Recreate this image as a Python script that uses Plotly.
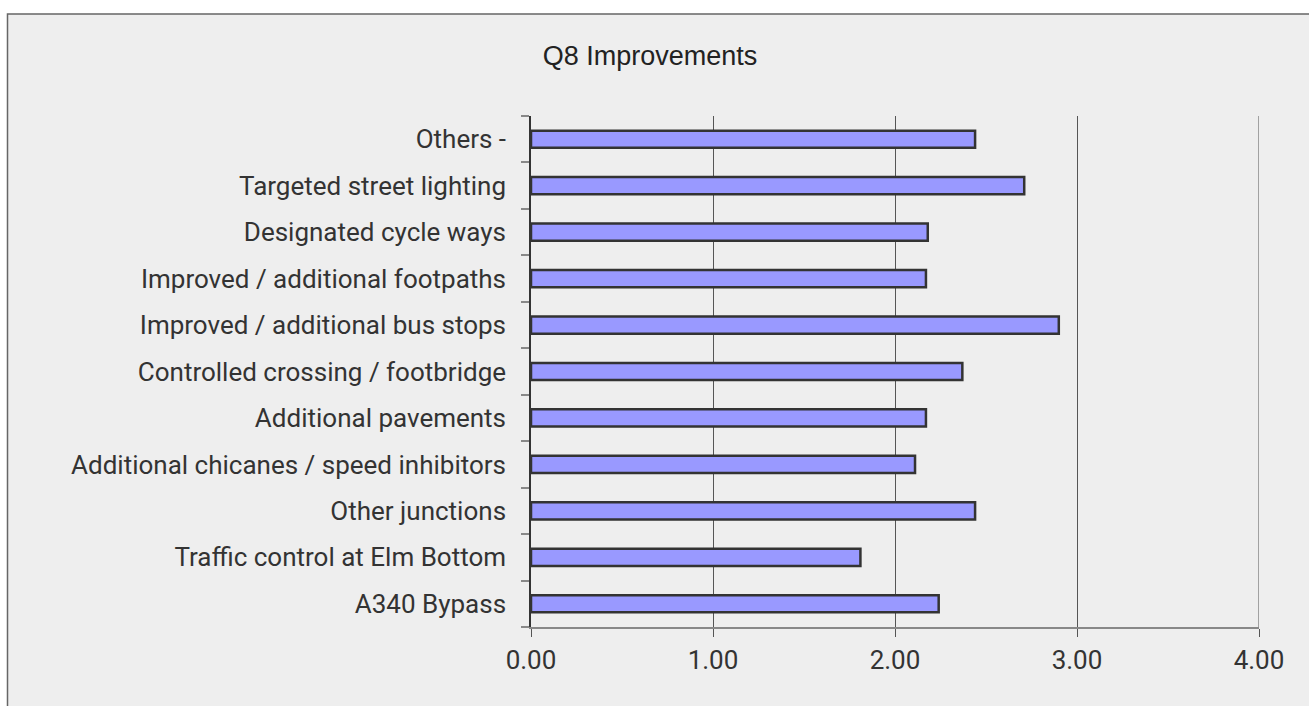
import plotly.graph_objects as go

categories = [
    "A340 Bypass",
    "Traffic control at Elm Bottom",
    "Other junctions",
    "Additional chicanes / speed inhibitors",
    "Additional pavements",
    "Controlled crossing / footbridge",
    "Improved / additional bus stops",
    "Improved / additional footpaths",
    "Designated cycle ways",
    "Targeted street lighting",
    "Others -",
]
values = [2.24, 1.81, 2.44, 2.11, 2.17, 2.37, 2.90, 2.17, 2.18, 2.71, 2.44]
x_ticks = [0, 1, 2, 3, 4]
x_tick_labels = ["0.00", "1.00", "2.00", "3.00", "4.00"]
title_text = "Q8 Improvements"

BG = "#eeeeee"

fig = go.Figure()
fig.add_trace(go.Bar(
    y=categories, x=values, orientation="h",
    marker=dict(color="#9999ff", line=dict(color="#333333", width=2.5)),
    width=0.37,
    hoverinfo="x+y",
))

L, R, T, B = 531, 50, 116, 79
W, H = 1309, 706
pw = W - L - R
ph = H - T - B

def px2x(px):
    return (px - L) / pw

def py2y(py):
    return (H - B - py) / ph

fig.add_shape(type="rect", xref="paper", yref="paper",
              x0=px2x(7.5), x1=px2x(1330), y0=py2y(730), y1=py2y(14),
              fillcolor=BG, line=dict(color="#666666", width=1.5), layer="below")
# gridline at the last tick (plotly drops the grid line at the range edge)
fig.add_shape(type="line", xref="x", yref="paper",
              x0=x_ticks[-1], x1=x_ticks[-1], y0=0, y1=1,
              line=dict(color="#555555", width=1), layer="below")

fig.update_layout(
    width=W, height=H,
    margin=dict(l=L, r=R, t=T, b=B),
    paper_bgcolor="white",
    plot_bgcolor="rgba(0,0,0,0)",
    showlegend=False,
    title=dict(text=title_text, x=650 / W, xanchor="center",
               y=1 - 56 / H, yanchor="middle",
               font=dict(family="Liberation Sans, Arial", size=27, color="#222222")),
    font=dict(family="Roboto", color="#333333"),
)
fig.update_xaxes(
    range=[0, 4], tickvals=x_ticks, ticktext=x_tick_labels,
    showgrid=True, gridcolor="#555555", gridwidth=1,
    showline=True, linecolor="#888888", linewidth=2,
    ticks="outside", ticklen=8, tickcolor="#555555", tickwidth=1,
    ticklabelstandoff=1,
    tickfont=dict(family="Roboto", size=26, color="#333333"),
    zeroline=False, fixedrange=True,
)
fig.update_yaxes(
    categoryorder="array", categoryarray=categories,
    showgrid=False, showline=True, linecolor="#333333", linewidth=1.5,
    ticks="outside", ticklen=8, tickcolor="#888888", tickwidth=1.5,
    tickson="boundaries",
    ticklabelstandoff=18,
    tickfont=dict(family="Roboto", size=26, color="#333333"),
    fixedrange=True,
)

fig.write_html(
    "out.html",
    config={"displayModeBar": False},
    post_script="document.body.style.margin='0';document.body.style.overflow='hidden';",
)
